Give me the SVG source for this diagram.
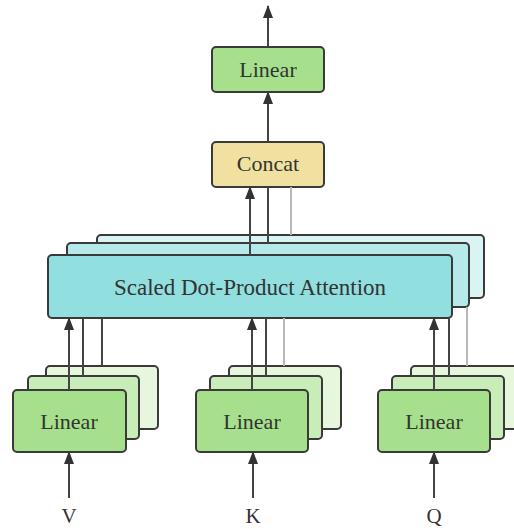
<svg xmlns="http://www.w3.org/2000/svg" width="514" height="529" viewBox="0 0 514 529">
  <style>
    .box { stroke: #3a3a3a; stroke-width: 2; }
    .g1 { fill: #a6e08c; }
    .g2 { fill: #c9edb8; }
    .g3 { fill: #e6f7dd; }
    .c1 { fill: #92dfe0; }
    .c2 { fill: #b6eaea; }
    .c3 { fill: #daf4f4; }
    .y1 { fill: #f1e1a0; }
    .lbl { font-family: "Liberation Serif", "Times New Roman", serif; fill: #333; text-anchor: middle; }
    .edge { stroke: #444; stroke-width: 2; fill: none; }
    .edge.light { stroke: #b8b8b8; }
    .arrow { marker-end: url(#head); }
  </style>
  <defs>
    <marker id="head" viewBox="0 0 13 10" refX="12" refY="5" markerWidth="13" markerHeight="10" markerUnits="userSpaceOnUse" orient="auto">
      <path d="M0,0 L13,5 L0,10 z" fill="#333"/>
    </marker>
  </defs>
  <rect width="514" height="529" fill="#fff"/>

  <!-- output projection -->
  <g id="linear-out">
    <rect class="box g1" x="212" y="47" width="112" height="45" rx="4"/>
    <text class="lbl" x="268" y="77" font-size="22">Linear</text>
  </g>

  <!-- concatenation of heads -->
  <g id="concat">
    <rect class="box y1" x="212" y="142" width="112" height="45" rx="4"/>
    <text class="lbl" x="268" y="171" font-size="22">Concat</text>
  </g>

  <!-- stacked attention heads -->
  <g id="attention">
    <rect class="box c3" x="97" y="235" width="387" height="63" rx="4"/>
    <rect class="box c2" x="67" y="243" width="402" height="64" rx="4"/>
    <rect class="box c1" x="48" y="255" width="404" height="63" rx="4"/>
    <text class="lbl" x="250" y="295" font-size="23">Scaled Dot-Product Attention</text>
  </g>

  <!-- value projections -->
  <g id="linear-v">
    <rect class="box g3" x="46" y="366" width="112" height="63" rx="4"/>
    <rect class="box g2" x="28" y="376" width="111" height="63" rx="4"/>
    <rect class="box g1" x="13" y="390" width="113" height="62" rx="4"/>
    <text class="lbl" x="69" y="429" font-size="22">Linear</text>
  </g>

  <!-- key projections -->
  <g id="linear-k">
    <rect class="box g3" x="229" y="366" width="112" height="63" rx="4"/>
    <rect class="box g2" x="210" y="376" width="112" height="63" rx="4"/>
    <rect class="box g1" x="196" y="390" width="112" height="62" rx="4"/>
    <text class="lbl" x="252" y="429" font-size="22">Linear</text>
  </g>

  <!-- query projections -->
  <g id="linear-q">
    <rect class="box g3" x="411" y="366" width="112" height="63" rx="4"/>
    <rect class="box g2" x="392" y="376" width="112" height="63" rx="4"/>
    <rect class="box g1" x="378" y="390" width="112" height="62" rx="4"/>
    <text class="lbl" x="434" y="429" font-size="22">Linear</text>
  </g>

  <!-- inputs -->
  <g id="input-v"><text class="lbl" x="69" y="523" font-size="21">V</text></g>
  <g id="input-k"><text class="lbl" x="253" y="523" font-size="21">K</text></g>
  <g id="input-q"><text class="lbl" x="434" y="523" font-size="21">Q</text></g>

  <g id="connectors">
    <!-- inputs into projections -->
    <line class="edge arrow" x1="69" y1="498" x2="69" y2="452"/>
    <line class="edge arrow" x1="253" y1="498" x2="253" y2="452"/>
    <line class="edge arrow" x1="434" y1="498" x2="434" y2="452"/>

    <!-- V projections to heads -->
    <line class="edge arrow" x1="69" y1="390" x2="69" y2="318"/>
    <line class="edge" x1="83" y1="376" x2="83" y2="318"/>
    <line class="edge" x1="102" y1="366" x2="102" y2="318"/>

    <!-- K projections to heads -->
    <line class="edge arrow" x1="252" y1="390" x2="252" y2="318"/>
    <line class="edge" x1="266" y1="376" x2="266" y2="318"/>
    <line class="edge light" x1="284" y1="366" x2="284" y2="318"/>

    <!-- Q projections to heads -->
    <line class="edge arrow" x1="434" y1="390" x2="434" y2="318"/>
    <line class="edge" x1="449" y1="376" x2="449" y2="318"/>
    <line class="edge light" x1="467" y1="366" x2="467" y2="307"/>

    <!-- heads to concat -->
    <line class="edge arrow" x1="250" y1="255" x2="250" y2="187"/>
    <line class="edge" x1="268" y1="243" x2="268" y2="187"/>
    <line class="edge light" x1="291" y1="235" x2="291" y2="187"/>

    <!-- concat to output -->
    <line class="edge arrow" x1="268" y1="142" x2="268" y2="92"/>
    <line class="edge arrow" x1="268" y1="47" x2="268" y2="6"/>
  </g>
</svg>
